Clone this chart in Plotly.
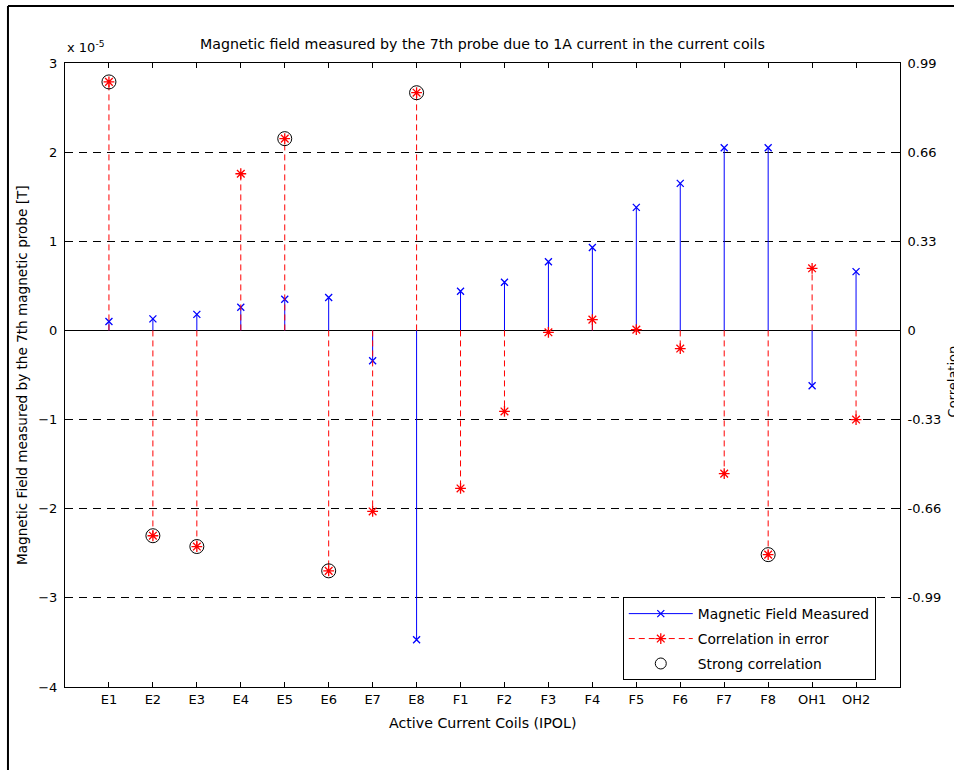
import plotly.graph_objects as go

# ---- data ----
coils = ["E1", "E2", "E3", "E4", "E5", "E6", "E7", "E8",
         "F1", "F2", "F3", "F4", "F5", "F6", "F7", "F8", "OH1", "OH2"]
# magnetic field measured, in units of 1e-5 T
field_e5 = [0.10, 0.13, 0.18, 0.26, 0.35, 0.37, -0.34, -3.47,
            0.44, 0.54, 0.77, 0.93, 1.38, 1.65, 2.05, 2.05, -0.62, 0.66]
# correlation in error
correlation = [0.92, -0.76, -0.80, 0.58, 0.71, -0.89, -0.67, 0.88,
               -0.585, -0.30, -0.007, 0.04, 0.003, -0.067, -0.53, -0.83, 0.23, -0.33]
strong_coils = ["E1", "E2", "E3", "E5", "E6", "E8", "F8"]

left_ticks = [-4, -3, -2, -1, 0, 1, 2, 3]
right_ticks = [-0.99, -0.66, -0.33, 0, 0.33, 0.66, 0.99]
right_tick_text = ["-0.99", "-0.66", "-0.33", "0", "0.33", "0.66", "0.99"]

FONT = "DejaVu Sans, Liberation Sans, sans-serif"
BLUE = "#0000FF"
RED = "#FF0000"


def stem_xy(cats, vals):
    xs, ys = [], []
    for c, v in zip(cats, vals):
        xs += [c, c, None]
        ys += [0, v, None]
    return xs, ys


fig = go.Figure()

fx, fy = stem_xy(coils, field_e5)
cx, cy = stem_xy(coils, correlation)

blue_line = dict(color=BLUE, width=1)
red_line = dict(color=RED, width=1, dash="6px,4px")
blue_marker = dict(symbol="x-thin-open", size=7, color=BLUE,
                   line=dict(color=BLUE, width=1.3))
red_marker = dict(symbol="asterisk-open", size=9, color=RED,
                  line=dict(color=RED, width=1.3))
circle_marker = dict(symbol="circle-open", size=14, color="black",
                     line=dict(color="black", width=1))

# correlation stems + tips (right axis)
fig.add_trace(go.Scatter(x=cx, y=cy, mode="lines", yaxis="y2",
                         line=red_line, showlegend=False, hoverinfo="skip"))
fig.add_trace(go.Scatter(x=coils, y=correlation, mode="markers", yaxis="y2",
                         marker=red_marker, showlegend=False))
# field stems + tips (left axis)
fig.add_trace(go.Scatter(x=fx, y=fy, mode="lines", line=blue_line,
                         showlegend=False, hoverinfo="skip"))
fig.add_trace(go.Scatter(x=coils, y=field_e5, mode="markers",
                         marker=blue_marker, showlegend=False))
# strong correlation circles
strong_idx = [coils.index(c) for c in strong_coils]
fig.add_trace(go.Scatter(
    x=[coils[i] for i in strong_idx], y=[correlation[i] for i in strong_idx],
    mode="markers", yaxis="y2", marker=circle_marker, showlegend=False))

# legend entries
fig.add_trace(go.Scatter(x=[None], y=[None], mode="lines+markers",
                         name="Magnetic Field Measured", line=blue_line,
                         marker=blue_marker, legendrank=1, legendgroup="a"))
fig.add_trace(go.Scatter(x=[None], y=[None], mode="lines+markers",
                         name="Correlation in error", line=red_line,
                         marker=red_marker, legendrank=2, legendgroup="b"))
fig.add_trace(go.Scatter(x=[None], y=[None], mode="markers",
                         name="Strong correlation",
                         marker=dict(symbol="circle-open", size=11, color="black",
                                     line=dict(color="black", width=1)),
                         legendrank=3, legendgroup="c"))

# outer frame (partial, as in the reference)
fig.add_shape(type="line", xref="paper", yref="paper",
              x0=-0.0683, x1=1.2, y0=1.0913, y1=1.0913,
              line=dict(color="black", width=2))
fig.add_shape(type="line", xref="paper", yref="paper",
              x0=-0.0683, x1=-0.0683, y0=1.0913, y1=-0.2,
              line=dict(color="black", width=2))

fig.update_layout(
    width=954, height=770,
    margin=dict(l=65, r=54, t=63, b=83, pad=0),
    paper_bgcolor="white", plot_bgcolor="white",
    font=dict(family=FONT, size=13, color="black"),
    showlegend=True,
    legend=dict(x=0.668, y=0.144, xanchor="left", yanchor="top",
                bgcolor="white", bordercolor="black", borderwidth=1,
                font=dict(size=13.8), tracegroupgap=4, itemwidth=64,
                traceorder="grouped"),
    xaxis=dict(type="category", categoryorder="array", categoryarray=coils,
               range=[-1, len(coils)], showgrid=False, zeroline=False,
               showline=True, linecolor="black", linewidth=1, mirror="ticks",
               ticks="inside", ticklen=5, tickcolor="black",
               tickfont=dict(size=13)),
    yaxis=dict(range=[-4, 3], tickvals=left_ticks, showgrid=True,
               gridcolor="black", griddash="8px,6px", gridwidth=1,
               zeroline=True, zerolinecolor="black", zerolinewidth=1,
               showline=True, linecolor="black", linewidth=1,
               ticks="inside", ticklen=5, tickcolor="black",
               ticklabelstandoff=4, tickfont=dict(size=13)),
    yaxis2=dict(range=[-1.32, 0.99], tickvals=right_ticks, ticktext=right_tick_text,
                overlaying="y", side="right", showgrid=False, zeroline=False,
                showline=True, linecolor="black", linewidth=1,
                ticks="inside", ticklen=5, tickcolor="black",
                ticklabelstandoff=4, tickfont=dict(size=13)),
    annotations=[
        dict(text="Magnetic field measured by the 7th probe due to 1A current in the current coils",
             xref="paper", yref="paper", x=0.5, y=1.030, xanchor="center",
             yanchor="middle", showarrow=False, font=dict(size=14.2)),
        dict(text="x 10<sup>-5</sup>", xref="paper", yref="paper", x=0.0,
             y=1.026, xanchor="left", yanchor="middle", showarrow=False,
             font=dict(size=13)),
        dict(text="Magnetic Field measured by the 7th magnetic probe [T]",
             xref="paper", yref="paper", x=-0.0515, y=0.5, textangle=-90,
             xanchor="center", yanchor="middle", showarrow=False,
             font=dict(size=13.6)),
        dict(text="Correlation", xref="paper", yref="paper", x=1.0625, y=0.49,
             textangle=-90, xanchor="center", yanchor="middle",
             showarrow=False, font=dict(size=13)),
        dict(text="Active Current Coils (IPOL)", xref="paper", yref="paper",
             x=0.5, y=-0.057, xanchor="center", yanchor="middle",
             showarrow=False, font=dict(size=14.2)),
    ],
)

fig.write_html("out.html")
